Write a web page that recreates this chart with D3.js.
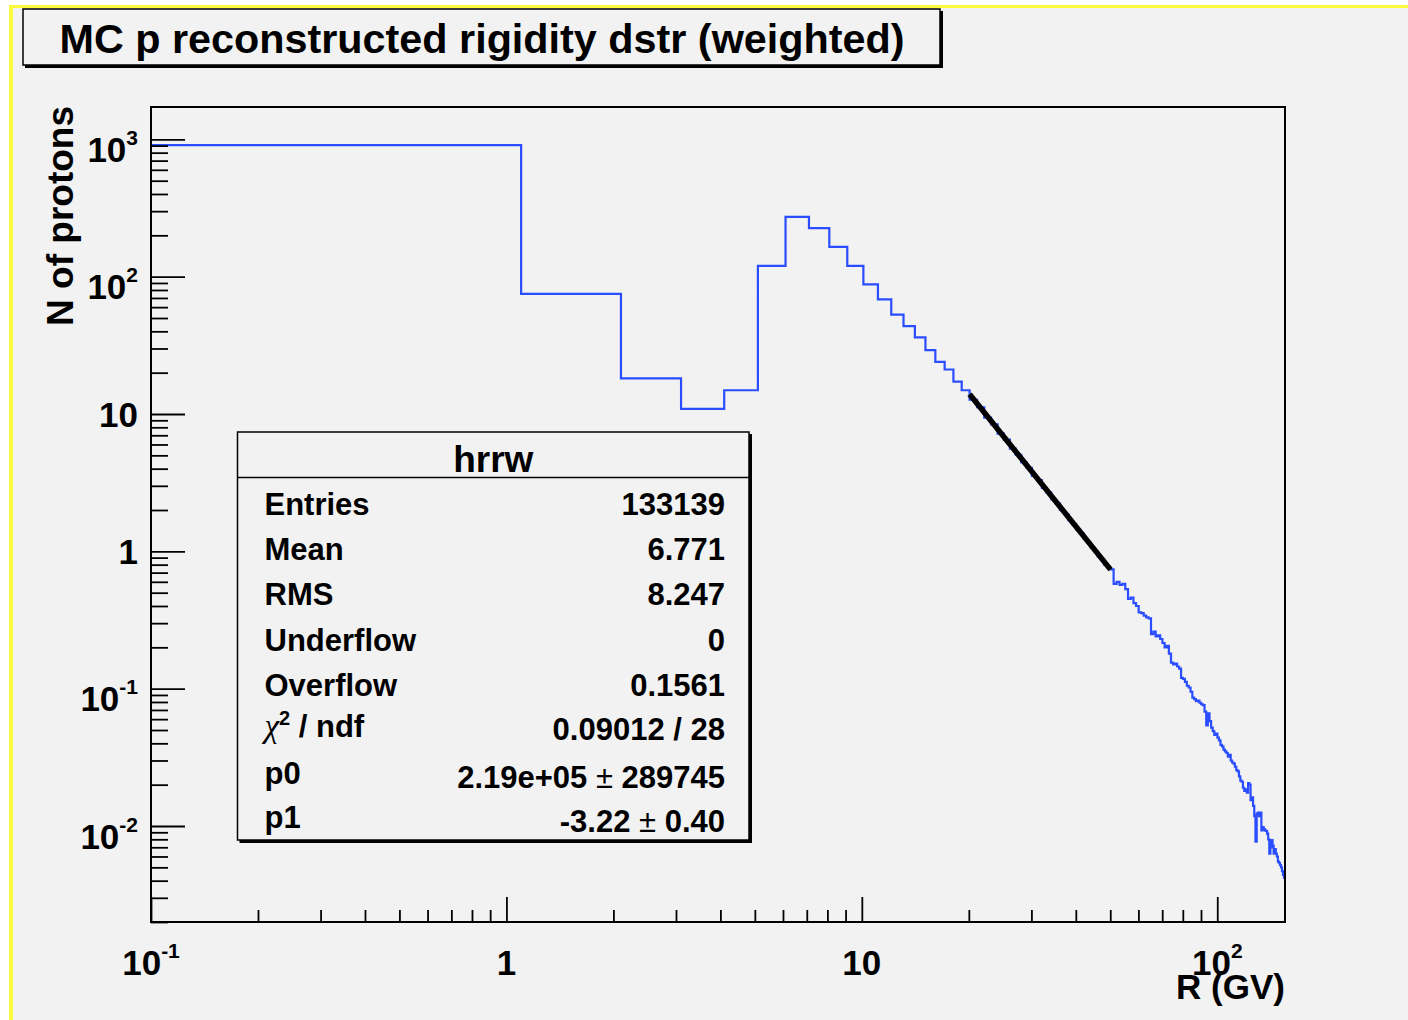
<!DOCTYPE html>
<html>
<head>
<meta charset="utf-8">
<script src="https://cdn.jsdelivr.net/npm/d3@7"></script>
<style>
  html, body { margin: 0; padding: 0; background: #fff; }
  svg { display: block; }
  text { font-family: "Liberation Sans", Arial, Helvetica, sans-serif; font-weight: bold; fill: #000; }
</style>
</head>
<body>
<div class="svg-container"></div>
<script>
// histogram hrrw: bins of 1 GV starting at 0.1 GV
const binStart = 0.1, binWidth = 1;
// 0.1 .. 20.1 GV
const countsLow = [908, 75, 18.2, 10.9, 14.9, 120, 273, 226, 165, 120,
                   88, 68.4, 53, 43.6, 36.1, 29.2, 24, 21.1, 17.2, 14.9];
// 20.1 .. 50.1 GV (under the fit line)
const countsFit = [12.7, 11.2, 9.4, 8.4, 7.2, 6.5, 5.6, 5.05, 4.45, 4.05,
                   3.55, 3.3, 2.9, 2.68, 2.4, 2.23, 2.0, 1.87, 1.69, 1.58,
                   1.44, 1.35, 1.23, 1.16, 1.06, 1.0, 0.92, 0.87, 0.80, 0.76];
// 50.1 .. 155.1 GV
const countsTail = [0.74, 0.58, 0.60, 0.57, 0.58, 0.53, 0.45, 0.46, 0.42, 0.40,
                    0.36, 0.355, 0.34, 0.33, 0.325, 0.25, 0.26, 0.24, 0.245, 0.23,
                    0.215, 0.20, 0.205, 0.18, 0.155, 0.15, 0.152, 0.145, 0.14, 0.12,
                    0.118, 0.112, 0.105, 0.102, 0.095, 0.086, 0.084, 0.081, 0.082, 0.079,
                    0.077, 0.076, 0.068, 0.054, 0.066, 0.058, 0.052, 0.049, 0.046, 0.047,
                    0.044, 0.042, 0.039, 0.038, 0.036, 0.035, 0.034, 0.032, 0.033, 0.030,
                    0.029, 0.0285, 0.027, 0.0255, 0.025, 0.023, 0.0214, 0.021, 0.019, 0.018,
                    0.0185, 0.0175, 0.0205, 0.020, 0.0154, 0.0162, 0.014, 0.0118, 0.0077, 0.0123,
                    0.0125, 0.0118, 0.0125, 0.0093, 0.0098, 0.0095, 0.0093, 0.0092, 0.0088, 0.0080,
                    0.0063, 0.0070, 0.0079, 0.0072, 0.0063, 0.0068, 0.0063, 0.0060, 0.0055, 0.0054,
                    0.0052, 0.0050, 0.0047, 0.0044, 0.0042];

// power law fit p0 * R^p1 over the fit range
const fitP0 = 2.19e5, fitP1 = -3.22;
const fitRange = [20.1, 50.1];

const xDomain = [0.1, 155.1];
const yDomain = [0.002, 1720];
const xLabelPowers = [-1, 0, 1, 2];
const yLabelPowers = [-2, -1, 0, 1, 2, 3];

const statLabels = ["Entries", "Mean", "RMS", "Underflow", "Overflow", "χ^2 / ndf", "p0", "p1"];
const statValues = ["133139", "6.771", "8.247", "0", "0.1561", "0.09012 / 28", "2.19e+05 ± 289745", "-3.22 ± 0.40"];

const titleText = "MC p reconstructed rigidity dstr (weighted)";
const xTitle = "R (GV)", yTitle = "N of protons", statTitle = "hrrw";

const width = 1408, height = 1020;
const plot = {left: 151, top: 107, right: 1285, bottom: 922};

const svg = d3.select(".svg-container").append("svg")
  .attr("width", width)
  .attr("height", height);

// canvas with the yellow highlight border
svg.append("rect").attr("width", width).attr("height", height).attr("fill", "#fff");
svg.append("rect").attr("x", 9).attr("y", 5).attr("width", width - 9).attr("height", height - 5).attr("fill", "#fbfb40");
svg.append("rect").attr("x", 13).attr("y", 8).attr("width", width - 13).attr("height", height - 8).attr("fill", "#f2f2f2");

const x = d3.scaleLog().domain(xDomain).range([plot.left, plot.right]);
const y = d3.scaleLog().domain(yDomain).range([plot.bottom, plot.top]);

svg.append("defs").append("clipPath").attr("id", "plotClip")
  .append("rect")
  .attr("x", plot.left).attr("y", plot.top)
  .attr("width", plot.right - plot.left).attr("height", plot.bottom - plot.top);

// histogram outline
const counts = countsLow.concat(countsFit, countsTail);
const steps = counts.map(function(c, i) { return [binStart + i * binWidth, c]; });
steps.push([binStart + counts.length * binWidth, counts[counts.length - 1]]);

const stepLine = d3.line()
  .x(function(d) { return x(d[0]); })
  .y(function(d) { return y(d[1]); })
  .curve(d3.curveStepAfter);

svg.append("path")
  .attr("clip-path", "url(#plotClip)")
  .attr("d", stepLine(steps))
  .attr("fill", "none")
  .attr("stroke", "#2a4dff")
  .attr("stroke-width", 2.2);

// fit line (straight in log-log)
const fitPts = fitRange.map(function(r) { return [r, fitP0 * Math.pow(r, fitP1)]; });
svg.append("path")
  .attr("d", d3.line().x(function(d) { return x(d[0]); }).y(function(d) { return y(d[1]); })(fitPts))
  .attr("fill", "none")
  .attr("stroke", "#000")
  .attr("stroke-width", 5.5);

// frame
svg.append("rect")
  .attr("x", plot.left).attr("y", plot.top)
  .attr("width", plot.right - plot.left).attr("height", plot.bottom - plot.top)
  .attr("fill", "none").attr("stroke", "#000").attr("stroke-width", 2);

function isDecade(v) {
  var l = Math.log10(v);
  return Math.abs(l - Math.round(l)) < 1e-6;
}

// ticks drawn inward, ROOT style
function tickAxis(axisFn, scale, values, size, transform) {
  var g = svg.append("g")
    .attr("transform", transform)
    .call(axisFn(scale).tickValues(values).tickSize(size).tickFormat(""));
  g.select(".domain").remove();
  g.selectAll(".tick line").attr("stroke", "#000").attr("stroke-width", 1.8);
}

var yTicks = y.ticks();
tickAxis(d3.axisRight, y, yTicks.filter(function(v) { return !isDecade(v); }), 17, "translate(" + plot.left + ",0)");
tickAxis(d3.axisRight, y, yTicks.filter(isDecade), 34, "translate(" + plot.left + ",0)");

var xTicks = x.ticks();
tickAxis(d3.axisTop, x, xTicks.filter(function(v) { return !isDecade(v); }), 12, "translate(0," + plot.bottom + ")");
tickAxis(d3.axisTop, x, xTicks.filter(isDecade), 25, "translate(0," + plot.bottom + ")");

// decade labels: 1, 10, or 10^k
function addPowerLabel(sel, k) {
  if (k === 0) { sel.text("1"); return false; }
  if (k === 1) { sel.text("10"); return false; }
  sel.append("tspan").text("10");
  sel.append("tspan").attr("font-size", 21).attr("dy", -17).text(k < 0 ? "-" + (-k) : String(k));
  return true;
}

yLabelPowers.forEach(function(k) {
  var ty = y(Math.pow(10, k));
  var t = svg.append("text")
    .attr("x", 138)
    .attr("text-anchor", "end")
    .attr("font-size", 35);
  var sup = addPowerLabel(t, k);
  t.attr("y", ty + (sup ? 22.5 : 12.5));
});

xLabelPowers.forEach(function(k) {
  var t = svg.append("text")
    .attr("x", x(Math.pow(10, k)))
    .attr("y", 975)
    .attr("text-anchor", "middle")
    .attr("font-size", 35);
  addPowerLabel(t, k);
});

// axis titles
svg.append("text")
  .attr("text-anchor", "end")
  .attr("font-size", 35)
  .attr("x", plot.right)
  .attr("y", 999)
  .text(xTitle);

svg.append("text")
  .attr("text-anchor", "end")
  .attr("font-size", 37)
  .attr("transform", "translate(73,106) rotate(-90)")
  .text(yTitle);

// boxes with ROOT-like shadow on right and bottom
function shadowBox(x0, y0, x1, y1) {
  svg.append("rect")
    .attr("x", x0).attr("y", y0)
    .attr("width", x1 - x0).attr("height", y1 - y0)
    .attr("fill", "#f2f2f2")
    .attr("stroke", "#000").attr("stroke-width", 1.5);
  svg.append("path")
    .attr("d", "M" + (x0 + 2) + "," + (y1 + 1.5) + "H" + (x1 + 1.5) + "V" + (y0 + 2))
    .attr("fill", "none")
    .attr("stroke", "#000").attr("stroke-width", 3);
}

// title
shadowBox(23, 9, 940, 65);
svg.append("text")
  .attr("x", 482)
  .attr("y", 53)
  .attr("text-anchor", "middle")
  .attr("font-size", 40)
  .attr("textLength", 845)
  .attr("lengthAdjust", "spacingAndGlyphs")
  .text(titleText);

// stats box
const stat = {left: 237.5, top: 432, right: 749, bottom: 840, header: 477.5};
shadowBox(stat.left, stat.top, stat.right, stat.bottom);
svg.append("line")
  .attr("x1", stat.left).attr("x2", stat.right)
  .attr("y1", stat.header).attr("y2", stat.header)
  .attr("stroke", "#000").attr("stroke-width", 1.5);

svg.append("text")
  .attr("x", (stat.left + stat.right) / 2)
  .attr("y", 472)
  .attr("text-anchor", "middle")
  .attr("font-size", 37)
  .text(statTitle);

const labelBase = [515, 560, 605, 650.5, 695.5, 737, 784, 828];
const valueBase = [515, 560, 605, 650.5, 695.5, 740, 787.5, 832];

statLabels.forEach(function(lab, i) {
  var t = svg.append("text")
    .attr("x", 264.5)
    .attr("y", labelBase[i])
    .attr("font-size", 31);
  if (lab.indexOf("^") >= 0) {
    var parts = lab.split("^");
    t.append("tspan").attr("font-family", "'Liberation Serif', 'DejaVu Serif', serif")
      .attr("font-weight", "normal").attr("font-style", "italic").attr("font-size", 33).text(parts[0]);
    t.append("tspan").attr("font-size", 20).attr("dy", -12).text(parts[1].charAt(0));
    t.append("tspan").attr("dy", 12).text(parts[1].slice(1));
  } else {
    t.text(lab);
  }
});

statValues.forEach(function(val, i) {
  var t = svg.append("text")
    .attr("x", 725)
    .attr("y", valueBase[i])
    .attr("text-anchor", "end")
    .attr("font-size", 31);
  var parts = val.split("±");
  parts.forEach(function(p, j) {
    if (j > 0) t.append("tspan").attr("font-weight", "normal").text("±");
    t.append("tspan").text(p);
  });
});
</script>
</body>
</html>
